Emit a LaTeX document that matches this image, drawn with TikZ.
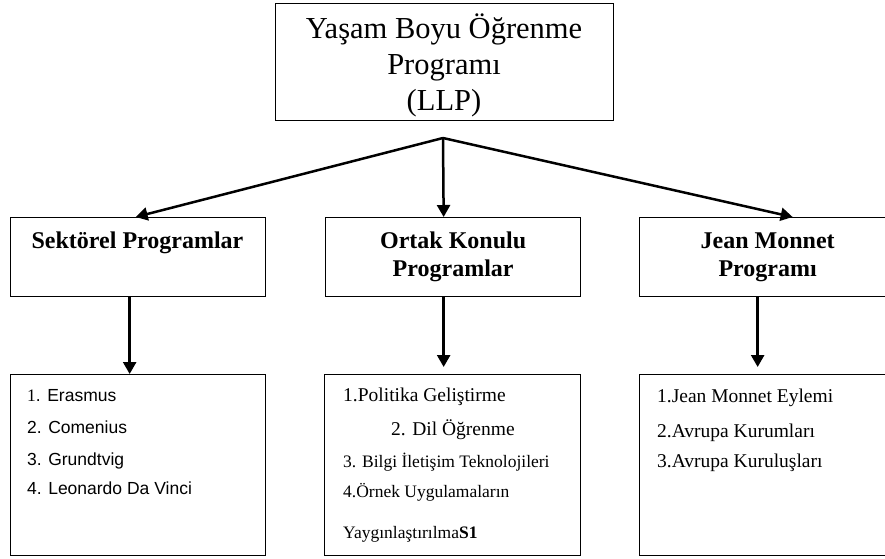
\documentclass[tikz,border=0pt]{standalone}
\usepackage{fontspec}
\setmainfont{Liberation Serif}
\setsansfont{Liberation Sans}
\usetikzlibrary{arrows.meta,calc}
\begin{document}
\begin{tikzpicture}[x=1pt,y=-1pt,
  box/.style={draw=black, line width=1.3pt, rectangle, inner sep=0pt, anchor=north west},
  arr/.style={line width=2.5pt, -{Triangle[length=12pt,width=13pt]}},
  titlef/.style={font=\fontsize{30.5pt}{36pt}\selectfont},
  headf/.style={font=\bfseries\fontsize{24pt}{28pt}\selectfont},
  bigf/.style={font=\fontsize{19.5pt}{22pt}\selectfont},
  smallf/.style={font=\fontsize{17.5pt}{20pt}\selectfont},
  sansf/.style={font=\sffamily\fontsize{17.5pt}{20pt}\selectfont},
  item/.style={inner sep=0pt, anchor=base west}]
\useasboundingbox[fill=white] (0,0) rectangle (885,558);

% top box
\node[box, minimum width=338pt, minimum height=117pt] (top) at (275,3) {};
\node[titlef, align=center, inner sep=0pt] (title) at (444,65) {Yaşam Boyu Öğrenme\\Programı\\(LLP)};

% middle row
\node[box, minimum width=255pt, minimum height=79pt] (sek) at (10,217) {};
\node[headf, inner sep=0pt, anchor=base] (sekT) at (137.5,248) {Sektörel Programlar};
\node[box, headf, align=center, minimum width=255pt, minimum height=79pt] (ortak) at (325,217) {Ortak Konulu\\Programlar};
\node[box, headf, align=center, minimum width=256pt, minimum height=79pt] (jm) at (639,217) {Jean Monnet\\Programı};

% bottom row
\node[box, minimum width=255pt, minimum height=181pt] (sekL) at (10,374) {};
\node[box, minimum width=256pt, minimum height=181pt] (ortL) at (324,374) {};
\node[box, minimum width=256pt, minimum height=181pt] (jmL) at (639,374) {};

\node[item, sansf] (s1) at (27,401) {{\rmfamily 1}. Erasmus};
\node[item, sansf] (s2) at (27,433) {2. Comenius};
\node[item, sansf] (s3) at (27,465) {3. Grundtvig};
\node[item, sansf] (s4) at (27,494) {4. Leonardo Da Vinci};

\node[item, bigf] (o1) at (343,401) {1.Politika Geliştirme};
\node[item, bigf] (o2) at (391,435) {2. Dil Öğrenme};
\node[item, smallf] (o3) at (343,467) {3. Bilgi İletişim Teknolojileri};
\node[item, smallf] (o4) at (343,497) {4.Örnek Uygulamaların};
\node[item, smallf] (o5) at (343,538) {Yaygınlaştırılma\textbf{S1}};

\node[item, bigf] (j1) at (657,402) {1.Jean Monnet Eylemi};
\node[item, bigf] (j2) at (657,437) {2.Avrupa Kurumları};
\node[item, bigf] (j3) at (657,467) {3.Avrupa Kuruluşları};

% connectors
\coordinate (hub) at (443,138);
\draw[arr] (hub) -- ($(sek.north)+(-2.5,0)$);
\draw[arr] (hub) -- ($(ortak.north)+(-9.5,0)$);
\draw[arr] (hub) -- ($(jm.north)+(25,0)$);

\draw[arr] ($(sek.south)+(-8.5,0)$) -- ($(sekL.north)+(-8.5,0)$);
\draw[arr] ($(ortak.south)+(-9.5,0)$) -- ($(ortL.north)+(-9,-7)$);
\draw[arr] ($(jm.south)+(-10,0)$) -- ($(jmL.north)+(-10,-7)$);
\end{tikzpicture}
\end{document}
